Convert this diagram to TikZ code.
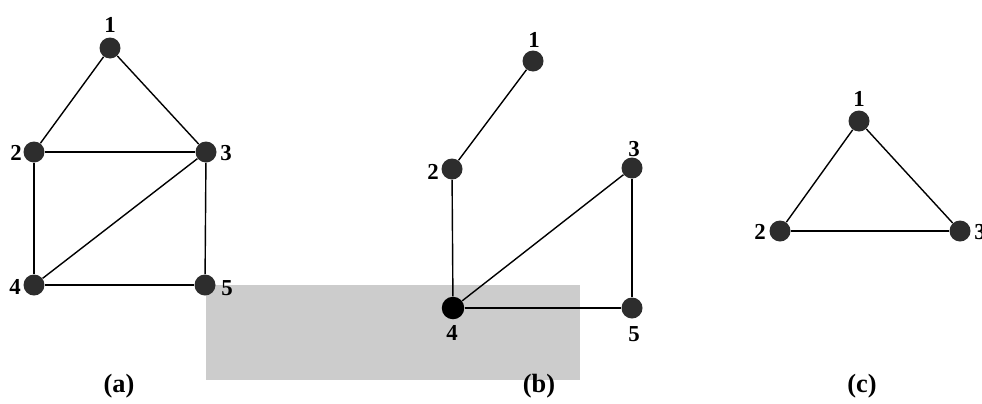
\documentclass[tikz,border=0pt]{standalone}
\usepackage{fontspec}
\setmainfont{Liberation Serif}
\usetikzlibrary{positioning}
\definecolor{vc}{RGB}{45,45,45}
\definecolor{wm}{RGB}{204,204,204}
\tikzset{v/.style={circle,fill=vc,inner sep=0pt,minimum size=0.42cm},
 vb/.style={v,fill=black,minimum size=0.45cm},
 num/.style={inner sep=0pt,font=\fontsize{13}{15}\selectfont\bfseries},
 capt/.style={num,font=\fontsize{15}{17}\selectfont\bfseries},
 edge/.style={line width=.8pt}}

\begin{document}
\begin{tikzpicture}[x=0.02cm,y=-0.02cm]
\useasboundingbox (0,0) rectangle (982,403);
\fill[wm] (206,285) rectangle (580,380);
% (a)
\node[v] (a1) at (110,48) {};
\node[v] (a2) at (34,152) {};
\node[v] (a3) at (206,152) {};
\node[v] (a4) at (34,285) {};
\node[v] (a5) at (205,285) {};
\foreach \a/\b in {a1/a2,a1/a3,a2/a3,a2/a4,a3/a4,a3/a5,a4/a5}{\draw[edge] (\a)--(\b);}
\node[num] (la1) at (110,25) {1};
\node[num] (la2) at (16,153) {2};
\node[num] (la3) at (226,153) {3};
\node[num] (la4) at (15,287) {4};
\node[num] (la5) at (227,288) {5};
\node[capt] (ca) at (119,386) {(a)};
% (b)
\node[v] (b1) at (533,61) {};
\node[v] (b2) at (452,169) {};
\node[v] (b3) at (632,168) {};
\node[vb] (b4) at (453,308) {};
\node[v] (b5) at (632,308) {};
\foreach \a/\b in {b1/b2,b2/b4,b3/b4,b3/b5,b4/b5}{\draw[edge] (\a)--(\b);}
\node[num] (lb1) at (534,40) {1};
\node[num] (lb2) at (433,172) {2};
\node[num] (lb3) at (634,149) {3};
\node[num] (lb4) at (452,333) {4};
\node[num] (lb5) at (634,334) {5};
\node[capt] (cb) at (539,386) {(b)};
% (c)
\node[v] (c1) at (859,121) {};
\node[v] (c2) at (780,231) {};
\node[v] (c3) at (960,231) {};
\foreach \a/\b in {c1/c2,c1/c3,c2/c3}{\draw[edge] (\a)--(\b);}
\node[num] (lc1) at (859,99) {1};
\node[num] (lc2) at (760,232) {2};
\node[num] (lc3) at (980,232) {3};
\node[capt] (cc) at (862,386) {(c)};
\end{tikzpicture}
\end{document}
